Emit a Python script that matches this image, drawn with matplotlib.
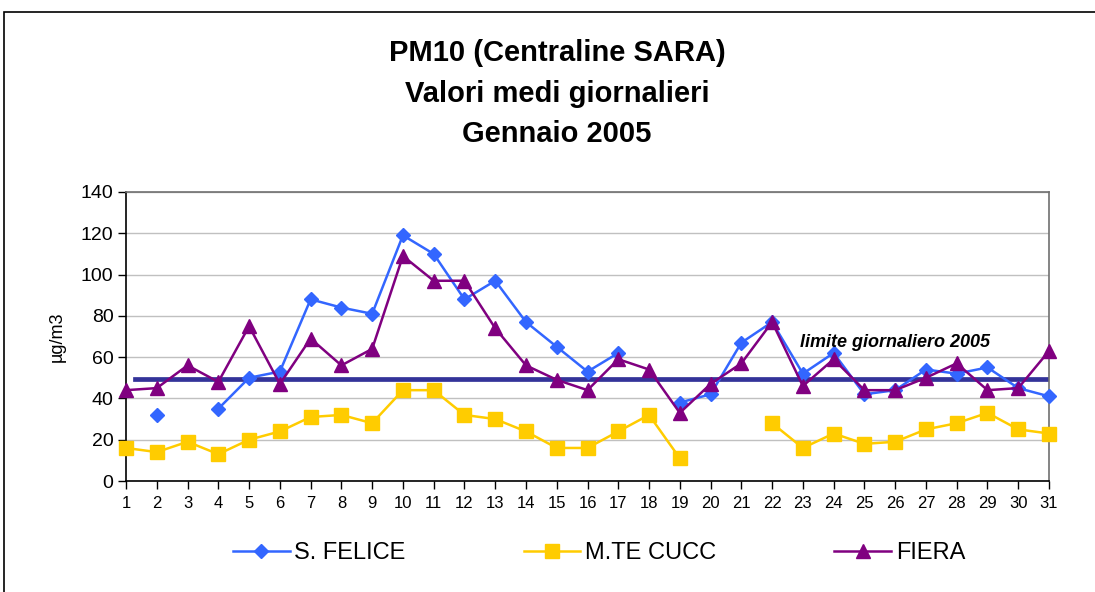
import numpy as np
import matplotlib
matplotlib.use('Agg')
import matplotlib.pyplot as plt
from matplotlib.patches import Rectangle

plt.rcParams['font.family'] = ['Liberation Sans', 'DejaVu Sans']

nan = np.nan
days = list(range(1, 32))

# PM10 daily means (ug/m3)
s_felice = [nan, 32, nan, 35, 50, 53, 88, 84, 81, 119, 110, 88, 97, 77, 65, 53,
            62, nan, 38, 42, 67, 77, 52, 62, 42, 44, 54, 52, 55, 45, 41]
mte_cucc = [16, 14, 19, 13, 20, 24, 31, 32, 28, 44, 44, 32, 30, 24, 16, 16,
            24, 32, 11, nan, nan, 28, 16, 23, 18, 19, 25, 28, 33, 25, 23]
fiera = [44, 45, 56, 48, 75, 47, 69, 56, 64, 109, 97, 97, 74, 56, 49, 44,
         59, 54, 33, 47, 57, 77, 46, 59, 44, 44, 50, 57, 44, 45, 63]

limit_value = 49.5
limit_span = (1.3, 31)
limit_label = 'limite giornaliero 2005'

title = 'PM10 (Centraline SARA)\nValori medi giornalieri\nGennaio 2005'

fig = plt.figure(figsize=(10.95, 5.92), dpi=100)
ax = fig.add_axes([0.1151, 0.1875, 0.958 - 0.1151, 0.6757 - 0.1875])

# outer chart frame (only top/left visible in the crop)
fig.patches.append(Rectangle((4 / 1095, -0.1), 1.2, 1 - 12 / 592 + 0.1,
                             transform=fig.transFigure, fill=False,
                             edgecolor='black', linewidth=1.2))

ax.grid(axis='y', color='#C0C0C0', linewidth=1.0)
ax.set_axisbelow(True)

ax.plot(limit_span, [limit_value, limit_value], color='#333399', linewidth=3.4, zorder=2)

ax.plot(days, s_felice, color='#3366FF', marker='D', markersize=7.5, linewidth=1.8,
        label='S. FELICE', zorder=3, clip_on=False)
ax.plot(days, mte_cucc, color='#FFCC00', marker='s', markersize=10, linewidth=1.8,
        label='M.TE CUCC', zorder=3, clip_on=False)
ax.plot(days, fiera, color='#800080', marker='^', markersize=10, linewidth=1.8,
        label='FIERA', zorder=4, clip_on=False)

ax.text(22.9, 67, limit_label, fontsize=13, fontweight='bold', fontstyle='italic',
        va='center', ha='left', zorder=5)

ax.set_xlim(1, 31)
ax.set_ylim(0, 140)
ax.set_xticks(days)
ax.set_yticks(range(0, 141, 20))
ax.tick_params(axis='x', labelsize=12, length=6, width=1, pad=5, direction='out')
ax.tick_params(axis='y', labelsize=14, length=6, width=1, pad=3, direction='out')

for side in ['left', 'bottom']:
    ax.spines[side].set_color('black')
    ax.spines[side].set_linewidth(1.2)
for side in ['top', 'right']:
    ax.spines[side].set_color('#707070')
    ax.spines[side].set_linewidth(1.2)

fig.text(57 / 1095, 1 - 337 / 592, 'µg/m3', rotation=90, fontsize=13,
         ha='center', va='center')

fig.text(557 / 1095, 1 - 93.5 / 592, title, fontsize=21, fontweight='bold',
         ha='center', va='center', linespacing=1.56)

fig.legend(loc='center', bbox_to_anchor=(599 / 1095, 1 - 553 / 592), ncol=3,
           frameon=False, fontsize=17, handlelength=2.4, handletextpad=0.2,
           columnspacing=5.0)

fig.savefig('out.png', dpi=100)
